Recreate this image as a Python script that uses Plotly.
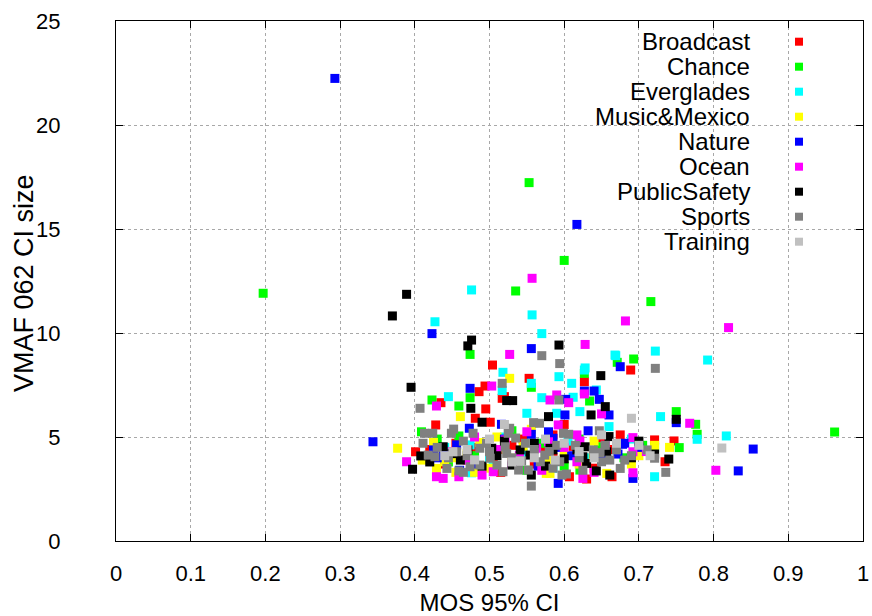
import plotly.graph_objects as go

# ---------------- data ----------------
series_names = ["Broadcast", "Chance", "Everglades", "Music&Mexico", "Nature",
                "Ocean", "PublicSafety", "Sports", "Training"]
series_colors = ["#ff0000", "#00ff00", "#00ffff", "#ffff00", "#0000ff",
                 "#ff00ff", "#000000", "#808080", "#c0c0c0"]

broadcast_x = [0.504, 0.486, 0.494, 0.553, 0.520, 0.517, 0.435, 0.495, 0.627, 0.689, 0.481, 0.428, 0.501,
               0.401, 0.585, 0.721, 0.747, 0.735, 0.675, 0.630, 0.664, 0.607, 0.455, 0.530, 0.470, 0.612,
               0.650, 0.560, 0.585, 0.515, 0.440, 0.600, 0.660, 0.545, 0.480,
               0.455, 0.505, 0.575, 0.640, 0.700, 0.420]
broadcast_y = [8.46, 7.18, 7.45, 7.82, 6.94, 6.86, 6.65, 6.35, 7.66, 8.22, 5.90, 5.58, 5.71,
               4.29, 5.10, 4.86, 4.81, 3.81, 5.10, 2.98, 3.09, 3.09, 4.10, 4.60, 3.90, 4.55,
               4.95, 3.70, 4.00, 3.30, 3.70, 5.60, 4.40, 4.90, 4.50,
               4.70, 4.00, 4.30, 3.50, 4.30, 4.40]

chance_x = [0.197, 0.553, 0.535, 0.600, 0.716, 0.474, 0.671, 0.693, 0.556, 0.474, 0.423, 0.459, 0.627,
            0.634, 0.750, 0.776, 0.778, 0.754, 0.962, 0.409, 0.459, 0.621, 0.646, 0.721, 0.505, 0.570,
            0.600, 0.445, 0.530, 0.680, 0.480, 0.550, 0.620, 0.705, 0.430]
chance_y = [11.91, 17.23, 12.02, 13.49, 11.51, 8.97, 8.59, 8.75, 7.39, 6.89, 6.78, 6.49, 8.06,
            6.73, 6.22, 5.61, 5.13, 4.49, 5.24, 5.25, 5.05, 3.41, 4.53, 4.49, 4.20, 4.70,
            3.60, 3.80, 5.30, 4.00, 4.10, 3.40, 4.90, 4.60, 4.90]

everglades_x = [0.427, 0.476, 0.557, 0.570, 0.628, 0.722, 0.669, 0.792, 0.593, 0.518, 0.556, 0.517, 0.445,
                0.570, 0.610, 0.612, 0.627, 0.643, 0.668, 0.550, 0.590, 0.621, 0.729, 0.778, 0.817, 0.721,
                0.474, 0.476, 0.520, 0.605, 0.545, 0.660, 0.585, 0.500, 0.440, 0.560, 0.630, 0.690, 0.505]
everglades_y = [10.54, 12.07, 10.87, 9.97, 8.32, 9.13, 8.91, 8.70, 7.90, 8.11, 7.58, 7.23, 6.94,
                6.89, 7.58, 6.91, 8.22, 7.26, 8.94, 6.14, 6.14, 6.22, 5.98, 4.89, 5.05, 3.09,
                4.62, 3.28, 5.00, 4.80, 4.20, 5.50, 3.50, 4.00, 4.50, 4.60, 4.00, 4.90, 3.60]

music_x = [0.527, 0.461, 0.377, 0.425, 0.410, 0.429, 0.440, 0.487, 0.530, 0.556, 0.576, 0.581, 0.657,
           0.639, 0.741, 0.721, 0.500, 0.470, 0.600, 0.545, 0.620, 0.690, 0.510, 0.455,
           0.450, 0.520, 0.580, 0.640, 0.700, 0.480]
music_y = [7.82, 5.98, 4.46, 4.74, 3.89, 3.49, 3.81, 4.73, 3.98, 5.37, 3.25, 3.25, 3.25,
           4.05, 4.50, 4.60, 3.50, 4.20, 4.20, 4.55, 3.70, 3.70, 5.00, 3.30,
           4.00, 4.40, 3.90, 4.80, 4.10, 3.30]

nature_x = [0.293, 0.617, 0.423, 0.556, 0.675, 0.474, 0.627, 0.640, 0.647, 0.602, 0.660, 0.601, 0.344,
            0.516, 0.473, 0.425, 0.438, 0.456, 0.556, 0.579, 0.585, 0.592, 0.632, 0.678, 0.681, 0.672,
            0.692, 0.750, 0.853, 0.833, 0.540, 0.500, 0.610, 0.565, 0.480,
            0.460, 0.520, 0.590, 0.650, 0.700, 0.430]
nature_y = [22.24, 15.22, 9.97, 9.25, 8.38, 7.34, 7.21, 7.21, 6.81, 6.81, 6.06, 6.06, 4.77,
            5.61, 5.42, 4.38, 4.21, 4.62, 5.13, 5.25, 4.94, 2.77, 5.30, 4.65, 4.70, 4.18,
            3.01, 5.69, 4.42, 3.37, 3.90, 4.30, 4.10, 3.60, 3.70,
            3.40, 4.90, 4.50, 3.90, 4.50, 4.00]

ocean_x = [0.557, 0.682, 0.820, 0.628, 0.527, 0.503, 0.429, 0.581, 0.590, 0.606, 0.627, 0.650, 0.768,
           0.592, 0.617, 0.692, 0.692, 0.692, 0.803, 0.389, 0.429, 0.438, 0.459, 0.472, 0.490, 0.505,
           0.521, 0.550, 0.563, 0.579, 0.621, 0.617, 0.625, 0.540, 0.600, 0.655, 0.510, 0.570,
           0.450, 0.530, 0.640, 0.710, 0.480]
ocean_y = [12.63, 10.58, 10.26, 9.45, 8.97, 7.45, 6.49, 6.78, 7.02, 6.65, 7.07, 6.11, 5.66,
           5.58, 5.10, 4.97, 4.29, 3.28, 3.40, 3.81, 3.09, 3.01, 3.09, 3.89, 3.17, 3.33,
           4.86, 5.25, 4.46, 4.77, 4.81, 3.81, 3.01, 4.10, 4.50, 4.60, 4.40, 3.40,
           4.30, 3.70, 3.30, 4.30, 5.00]

publicsafety_x = [0.389, 0.370, 0.476, 0.471, 0.593, 0.649, 0.523, 0.531, 0.395, 0.475, 0.655, 0.579, 0.636,
                  0.750, 0.490, 0.660, 0.721, 0.740, 0.661, 0.643, 0.657, 0.397, 0.408, 0.438, 0.461, 0.471,
                  0.503, 0.530, 0.541, 0.554, 0.556, 0.581, 0.585, 0.617, 0.628, 0.625, 0.630, 0.510, 0.560,
                  0.600, 0.690, 0.450, 0.490, 0.520, 0.575, 0.640, 0.700, 0.420]
publicsafety_y = [11.86, 10.82, 9.66, 9.38, 9.42, 7.95, 6.75, 6.75, 7.39, 6.38, 6.46, 5.98, 6.06,
                  5.85, 5.71, 5.02, 4.18, 3.94, 3.17, 3.37, 4.29, 3.45, 4.09, 4.53, 3.89, 4.38,
                  4.46, 3.65, 4.38, 4.13, 3.17, 4.46, 4.38, 4.38, 4.53, 4.05, 3.73, 4.10, 4.70,
                  3.95, 4.00, 4.20, 3.60, 4.80, 3.60, 4.20, 4.80, 3.80]

sports_x = [0.570, 0.594, 0.722, 0.517, 0.593, 0.407, 0.452, 0.478, 0.413, 0.424, 0.449, 0.411, 0.418,
            0.427, 0.443, 0.456, 0.459, 0.474, 0.487, 0.487, 0.496, 0.501, 0.510, 0.521, 0.523, 0.518,
            0.527, 0.525, 0.539, 0.543, 0.548, 0.559, 0.552, 0.556, 0.567, 0.568, 0.574, 0.594, 0.597,
            0.603, 0.599, 0.606, 0.647, 0.639, 0.648, 0.661, 0.650, 0.670, 0.681, 0.675, 0.711, 0.721,
            0.736, 0.580, 0.615, 0.535, 0.465,
            0.430, 0.445, 0.470, 0.500, 0.530, 0.560, 0.590, 0.620, 0.655, 0.690, 0.465, 0.585, 0.625]
sports_y = [8.91, 8.53, 8.30, 7.58, 6.78, 6.38, 5.38, 5.18, 5.18, 5.18, 5.18, 4.70, 4.13,
            4.05, 3.49, 4.29, 3.37, 3.57, 4.46, 3.65, 4.70, 3.98, 3.65, 4.53, 4.21, 3.33,
            5.42, 5.18, 3.41, 3.85, 4.70, 5.69, 3.41, 2.64, 5.66, 3.81, 4.13, 3.81, 3.17,
            3.22, 5.18, 5.13, 5.30, 4.38, 4.25, 3.89, 3.81, 4.38, 3.89, 3.49, 4.38, 3.98,
            3.30, 4.30, 4.60, 4.95, 4.80,
            4.50, 4.00, 4.10, 4.30, 4.00, 4.40, 4.60, 4.00, 4.60, 4.10, 3.30, 3.50, 3.40]

training_x = [0.690, 0.811, 0.588, 0.650, 0.440, 0.500, 0.560, 0.620, 0.530, 0.470, 0.715, 0.600, 0.451,
              0.670, 0.520, 0.541, 0.480, 0.575, 0.640, 0.700]
training_y = [5.90, 4.47, 3.89, 5.10, 4.10, 4.90, 4.00, 4.30, 3.80, 4.40, 4.10, 4.70, 4.29,
              4.70, 5.60, 3.85, 3.90, 4.90, 4.00, 4.60]

x_ticks = [0, 0.1, 0.2, 0.3, 0.4, 0.5, 0.6, 0.7, 0.8, 0.9, 1]
x_tick_labels = ["0", "0.1", "0.2", "0.3", "0.4", "0.5", "0.6", "0.7", "0.8", "0.9", "1"]
y_ticks = [0, 5, 10, 15, 20, 25]
y_tick_labels = ["0", "5", "10", "15", "20", "25"]

x_title = "MOS 95% CI"
y_title = "VMAF 062 CI size"

series_x = [broadcast_x, chance_x, everglades_x, music_x, nature_x,
            ocean_x, publicsafety_x, sports_x, training_x]
series_y = [broadcast_y, chance_y, everglades_y, music_y, nature_y,
            ocean_y, publicsafety_y, sports_y, training_y]

# ---------------- figure ----------------
W, H = 872, 616
ML, MR, MT, MB = 116, 9, 21, 75
PW, PH = W - ML - MR, H - MT - MB

FONT = "Liberation Sans"

fig = go.Figure()
for name, color, xs, ys in zip(series_names, series_colors, series_x, series_y):
    fig.add_trace(go.Scatter(
        x=xs, y=ys, mode="markers", name=name, showlegend=False,
        marker=dict(symbol="square", size=9, color=color, line=dict(width=0)),
    ))

axis_common = dict(
    showline=True, linecolor="black", linewidth=1, mirror="ticks",
    ticks="inside", ticklen=7, tickwidth=1, tickcolor="black",
    showgrid=True, gridcolor="#a8a8a8", griddash="dot", gridwidth=1,
    zeroline=False, tickfont=dict(family=FONT, size=22, color="black"),
)

fig.update_xaxes(range=[0, 1], tickvals=x_ticks, ticktext=x_tick_labels,
                 ticklabelstandoff=13,
                 title=dict(text=x_title, font=dict(family=FONT, size=24, color="black"), standoff=10),
                 **axis_common)
fig.update_yaxes(range=[0, 25], tickvals=y_ticks, ticktext=y_tick_labels,
                 ticklabelstandoff=50,
                 **axis_common)

def px_to_paper_x(px):
    return (px - ML) / PW

def px_to_paper_y(py):
    return (H - MB - py) / PH

annotations = [dict(
    text=y_title, xref="paper", yref="paper", x=px_to_paper_x(24), y=px_to_paper_y(283),
    xanchor="center", yanchor="middle", textangle=-90, showarrow=False,
    font=dict(family=FONT, size=27, color="black"),
)]

# legend (gnuplot style: right-aligned text, key to the right) on an opaque box
shapes = [dict(type="rect", xref="paper", yref="paper",
               x0=px_to_paper_x(570), x1=1, y0=px_to_paper_y(253), y1=1,
               fillcolor="white", line=dict(width=0), layer="between")]
for i, (name, color) in enumerate(zip(series_names, series_colors)):
    cy = 41.7 + 25 * i
    annotations.append(dict(
        text=name, xref="paper", yref="paper", x=px_to_paper_x(752), y=px_to_paper_y(cy),
        xanchor="right", yanchor="middle", showarrow=False,
        font=dict(family=FONT, size=24, color="black"),
    ))
    shapes.append(dict(type="rect", xref="paper", yref="paper",
                       x0=px_to_paper_x(795), x1=px_to_paper_x(803),
                       y0=px_to_paper_y(cy + 4), y1=px_to_paper_y(cy - 4),
                       fillcolor=color, line=dict(width=0), layer="above"))

fig.update_layout(
    width=W, height=H,
    margin=dict(l=ML, r=MR, t=MT, b=MB, autoexpand=False),
    paper_bgcolor="white", plot_bgcolor="white",
    shapes=shapes, annotations=annotations,
    font=dict(family=FONT, color="black"),
    showlegend=False,
)

fig.write_html("out.html")
